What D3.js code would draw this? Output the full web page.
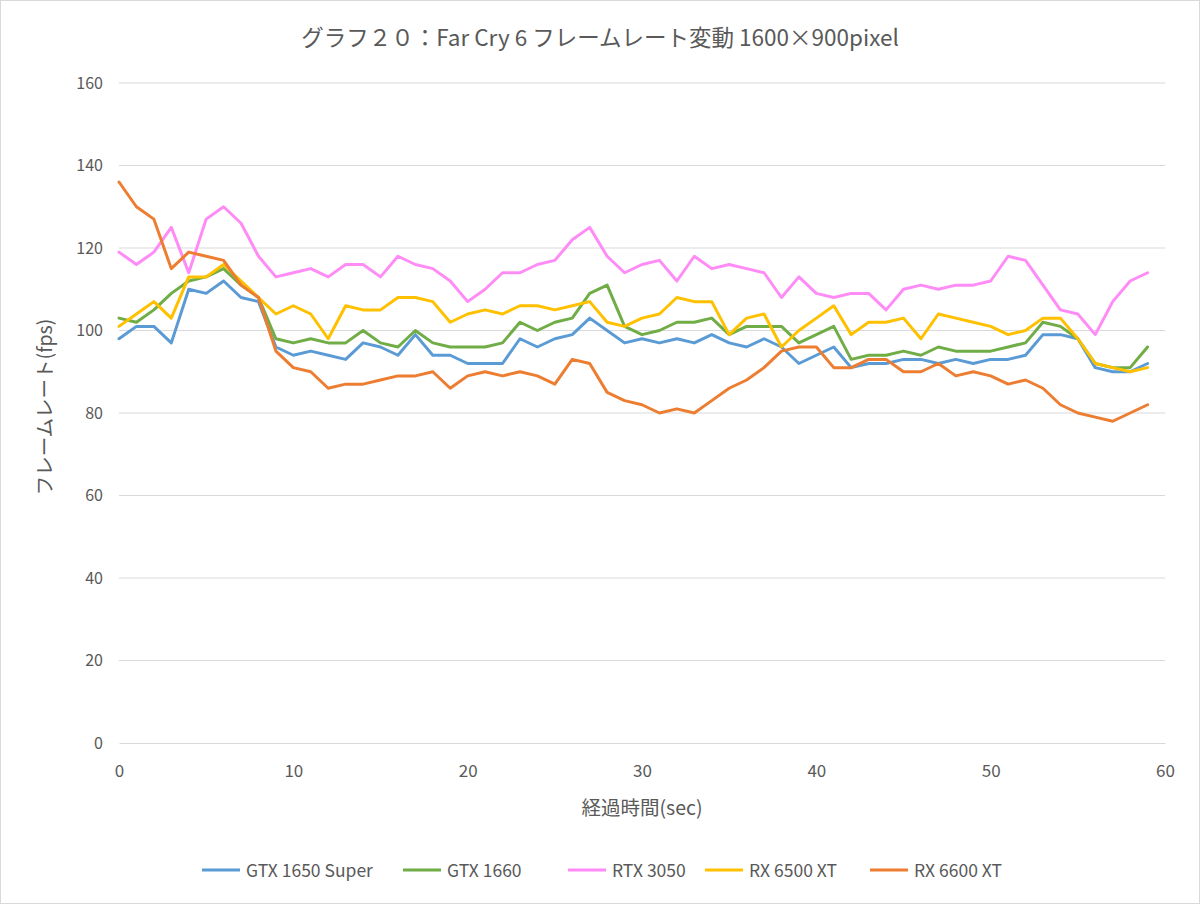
<!DOCTYPE html>
<html><head><meta charset="utf-8">
<script src="https://cdn.jsdelivr.net/npm/d3@7"></script>
<style>
body{margin:0;background:#fff;}
svg{display:block;}
text{font-family:"Noto Sans CJK JP","Noto Sans",sans-serif;fill:#595959;}
</style></head>
<body>
<svg id="chart" width="1200" height="904"></svg>
<script>
const seconds = d3.range(0, 60);
const gtx1650s = [98,101,101,97,110,109,112,108,107,96,94,95,94,93,97,96,94,99,94,94,92,92,92,98,96,98,99,103,100,97,98,97,98,97,99,97,96,98,96,92,94,96,91,92,92,93,93,92,93,92,93,93,94,99,99,98,91,90,90,92];
const gtx1660  = [103,102,105,109,112,113,115,111,108,98,97,98,97,97,100,97,96,100,97,96,96,96,97,102,100,102,103,109,111,101,99,100,102,102,103,99,101,101,101,97,99,101,93,94,94,95,94,96,95,95,95,96,97,102,101,98,92,91,91,96];
const rtx3050   = [119,116,119,125,114,127,130,126,118,113,114,115,113,116,116,113,118,116,115,112,107,110,114,114,116,117,122,125,118,114,116,117,112,118,115,116,115,114,108,113,109,108,109,109,105,110,111,110,111,111,112,118,117,111,105,104,99,107,112,114];
const rx6500xt  = [101,104,107,103,113,113,116,112,108,104,106,104,98,106,105,105,108,108,107,102,104,105,104,106,106,105,106,107,102,101,103,104,108,107,107,99,103,104,96,100,103,106,99,102,102,103,98,104,103,102,101,99,100,103,103,98,92,91,90,91];
const rx6600xt  = [136,130,127,115,119,118,117,111,108,95,91,90,86,87,87,88,89,89,90,86,89,90,89,90,89,87,93,92,85,83,82,80,81,80,83,86,88,91,95,96,96,91,91,93,93,90,90,92,89,90,89,87,88,86,82,80,79,78,80,82];
const seriesNames = ["GTX 1650 Super","GTX 1660","RTX 3050","RX 6500 XT","RX 6600 XT"];
const seriesColors = ["#5B9BD5","#70AD47","#FF8CF6","#FFC000","#ED7D31"];
const yTicks = [0,20,40,60,80,100,120,140,160];
const xTicks = [0,10,20,30,40,50,60];
const title = "グラフ２０：Far Cry 6 フレームレート変動 1600×900pixel";
const xTitle = "経過時間(sec)";
const yTitle = "フレームレート(fps)";

const seriesData = [gtx1650s, gtx1660, rtx3050, rx6500xt, rx6600xt];
const svg = d3.select("#chart");
svg.append("rect").attr("x",0.5).attr("y",0.5).attr("width",1199).attr("height",903)
  .attr("fill","#fff").attr("stroke","#d9d9d9");

const x = d3.scaleLinear().domain([0,60]).range([119,1165]);
const y = d3.scaleLinear().domain([0,160]).range([743,83]);

// gridlines
svg.append("g").selectAll("line").data(yTicks.filter(d=>d>0)).join("line")
  .attr("x1",119).attr("x2",1165).attr("y1",d=>y(d)).attr("y2",d=>y(d))
  .attr("stroke","#d9d9d9").attr("stroke-width",1);

// y axis labels
const yAxis = d3.axisLeft(y).tickValues(yTicks).tickSize(0).tickPadding(0);
const gy = svg.append("g").attr("transform","translate(103,0)").call(yAxis);
gy.select(".domain").remove();
gy.selectAll("text").style("font-size","16px").attr("fill","#595959")
  .style("font-family",'"Noto Sans CJK JP",sans-serif');

// x axis
const xAxis = d3.axisBottom(x).tickValues(xTicks).tickSize(0).tickPadding(22);
const gx = svg.append("g").attr("transform","translate(0,743)").call(xAxis);
gx.select(".domain").attr("stroke","#d9d9d9").attr("stroke-width",1);
gx.selectAll("text").style("font-size","17px").attr("fill","#595959")
  .style("font-family",'"Noto Sans CJK JP",sans-serif');

// lines
const line = d3.line().x((d,i)=>x(seconds[i])).y(d=>y(d));
seriesData.forEach((s,k)=>{
  svg.append("path").datum(s).attr("d",line).attr("fill","none")
    .attr("stroke",seriesColors[k]).attr("stroke-width",3)
    .attr("stroke-linejoin","round").attr("stroke-linecap","round");
});

// titles
svg.append("text").attr("x",600).attr("y",46).attr("text-anchor","middle")
  .style("font-size","22.5px").text(title);
svg.append("text").attr("x",642).attr("y",815).attr("text-anchor","middle")
  .style("font-size","19.5px").text(xTitle);
svg.append("text").attr("transform","translate(52,407) rotate(-90)").attr("text-anchor","middle")
  .style("font-size","19.5px").text(yTitle);

// legend
const legendX = [202,403,568,705,870];
const lg = svg.append("g");
seriesNames.forEach((n,k)=>{
  lg.append("line").attr("x1",legendX[k]).attr("x2",legendX[k]+38).attr("y1",870).attr("y2",870)
    .attr("stroke",seriesColors[k]).attr("stroke-width",3);
  lg.append("text").attr("x",legendX[k]+44).attr("y",876.5).style("font-size","17.5px").text(n);
});
</script>
</body></html>
